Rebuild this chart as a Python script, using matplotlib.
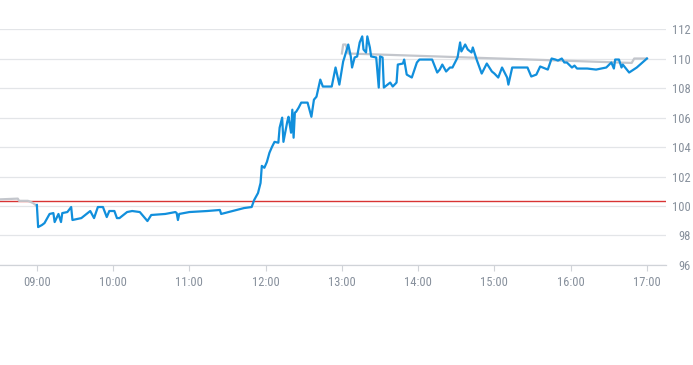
import matplotlib
matplotlib.use("Agg")
import matplotlib.pyplot as plt
import matplotlib.dates as mdates
import pandas as pd

DAY = "2024-01-02 "

# intraday price (blue)
price_times = [
    "09:00", "09:01", "09:04", "09:06", "09:10", "09:13", "09:14", "09:17", "09:19", "09:20",
    "09:24", "09:27", "09:28", "09:35", "09:42", "09:45", "09:48", "09:52", "09:55", "09:57",
    "10:01", "10:03", "10:05", "10:11", "10:15", "10:21", "10:27", "10:30", "10:41", "10:49",
    "10:50", "10:51", "10:52", "11:00", "11:14", "11:24", "11:25", "11:37", "11:43", "11:49",
    "11:51", "11:54", "11:56", "11:57", "11:59", "12:01", "12:03", "12:05", "12:07", "12:10",
    "12:11", "12:13", "12:14", "12:17", "12:18", "12:20", "12:21", "12:22", "12:23", "12:24",
    "12:26", "12:28", "12:33", "12:36", "12:38", "12:40", "12:43", "12:45", "12:52", "12:55",
    "12:58", "13:01", "13:02", "13:05", "13:07", "13:08", "13:10", "13:12", "13:14", "13:16",
    "13:17", "13:19", "13:20", "13:22", "13:23", "13:27", "13:29", "13:30", "13:32", "13:33",
    "13:36", "13:38", "13:40", "13:43", "13:44", "13:48", "13:49", "13:51", "13:55", "13:59",
    "14:01", "14:11", "14:15", "14:17", "14:19", "14:22", "14:25", "14:27", "14:31", "14:33",
    "14:34", "14:37", "14:39", "14:42", "14:43", "14:46", "14:50", "14:54", "14:58", "15:00",
    "15:03", "15:06", "15:10", "15:11", "15:14", "15:26", "15:29", "15:33", "15:36", "15:42",
    "15:45", "15:48", "15:50", "15:53", "15:55", "15:57", "16:01", "16:03", "16:05", "16:13",
    "16:20", "16:24", "16:28", "16:32", "16:34", "16:35", "16:38", "16:40", "16:41", "16:46",
    "16:52", "17:00",
]
price_values = [
    100.07, 98.57, 98.71, 98.84, 99.46, 99.52, 98.91, 99.46, 98.91, 99.52,
    99.59, 99.93, 99.05, 99.18, 99.66, 99.18, 99.93, 99.93, 99.25, 99.66,
    99.66, 99.18, 99.18, 99.59, 99.66, 99.59, 98.98, 99.39, 99.46, 99.59,
    99.52, 99.05, 99.46, 99.59, 99.66, 99.73, 99.46, 99.73, 99.86, 99.93,
    100.41, 100.88, 101.56, 102.72, 102.59, 102.99, 103.61, 104.01, 104.35, 104.29,
    105.31, 105.99, 104.35, 105.71, 106.05, 104.97, 106.53, 104.63, 106.33, 106.39,
    106.67, 107.01, 107.01, 106.05, 107.21, 107.41, 108.57, 108.10, 108.10, 109.39,
    108.23, 109.80, 110.07, 110.95, 110.14, 109.39, 110.07, 110.14, 111.09, 111.50,
    110.61, 110.41, 111.50, 110.75, 110.14, 110.07, 108.03, 110.14, 110.07, 108.03,
    108.23, 108.37, 108.10, 108.37, 109.59, 109.66, 109.93, 108.91, 108.71, 109.73,
    109.93, 109.93, 109.05, 109.25, 109.59, 109.12, 109.39, 109.39, 110.07, 111.09,
    110.48, 110.95, 110.61, 110.41, 110.75, 109.93, 108.98, 109.66, 109.12, 108.98,
    108.71, 109.39, 108.71, 108.23, 109.39, 109.39, 108.78, 108.91, 109.46, 109.25,
    110.00, 109.93, 109.86, 110.00, 109.73, 109.73, 109.39, 109.52, 109.32, 109.32,
    109.25, 109.32, 109.39, 109.73, 109.32, 109.93, 109.93, 109.39, 109.59, 109.05,
    109.39, 110.00,
]

# pre-market / reference line (grey)
pre_times = ["08:31", "08:45", "08:46", "08:53", "08:57", "09:00"]
pre_values = [100.45, 100.50, 100.35, 100.35, 100.20, 100.00]
ref_times = ["13:00", "13:01", "13:03", "13:05", "16:48", "16:50", "17:00"]
ref_values = [110.34, 110.95, 110.95, 110.34, 109.70, 110.00, 110.00]

prev_close = 100.34
y_ticks = [96, 98, 100, 102, 104, 106, 108, 110, 112]
x_ticks = ["09:00", "10:00", "11:00", "12:00", "13:00", "14:00", "15:00", "16:00", "17:00"]


def to_dt(times):
    return pd.to_datetime([DAY + t for t in times])


plt.rcParams["font.family"] = ["Roboto Condensed", "DejaVu Sans"]
label_color = "#87909c"
grid_color = "#e3e5e8"

fig = plt.figure(figsize=(6.93, 3.65), dpi=100)
ax = fig.add_axes([0.0, 0.274, 666 / 693, 0.6465])

ax.plot(to_dt(pre_times), pre_values, color="#c3c6cc", lw=1.6, zorder=3)
ax.plot(to_dt(ref_times), ref_values, color="#c3c6cc", lw=1.6, zorder=3)
ax.plot(to_dt(price_times), price_values, color="#118fdc", lw=1.6, zorder=4,
        solid_joinstyle="round")
ax.axhline(prev_close, color="#d83434", lw=1.0, zorder=2)

ax.set_ylim(96, 112)
ax.set_xlim(pd.Timestamp(DAY + "08:31"), pd.Timestamp(DAY + "17:15"))

ax.set_yticks(y_ticks)
ax.set_yticklabels([str(v) for v in y_ticks])
ax.yaxis.tick_right()
ax.tick_params(axis="y", length=0, pad=18, labelsize=9, labelcolor=label_color)
for lab in ax.get_yticklabels():
    lab.set_horizontalalignment("right")
ax.grid(axis="y", color=grid_color, lw=0.9, zorder=0)

ax.set_xticks(to_dt(x_ticks))
ax.xaxis.set_major_formatter(mdates.DateFormatter("%H:%M"))
ax.tick_params(axis="x", length=4, width=0.8, color="#d0d3d8", pad=4,
               labelsize=9, labelcolor=label_color)

for side in ["top", "left", "right"]:
    ax.spines[side].set_visible(False)
ax.spines["bottom"].set_color("#d0d3d8")
ax.spines["bottom"].set_linewidth(0.9)

fig.savefig("out.png", dpi=100)
